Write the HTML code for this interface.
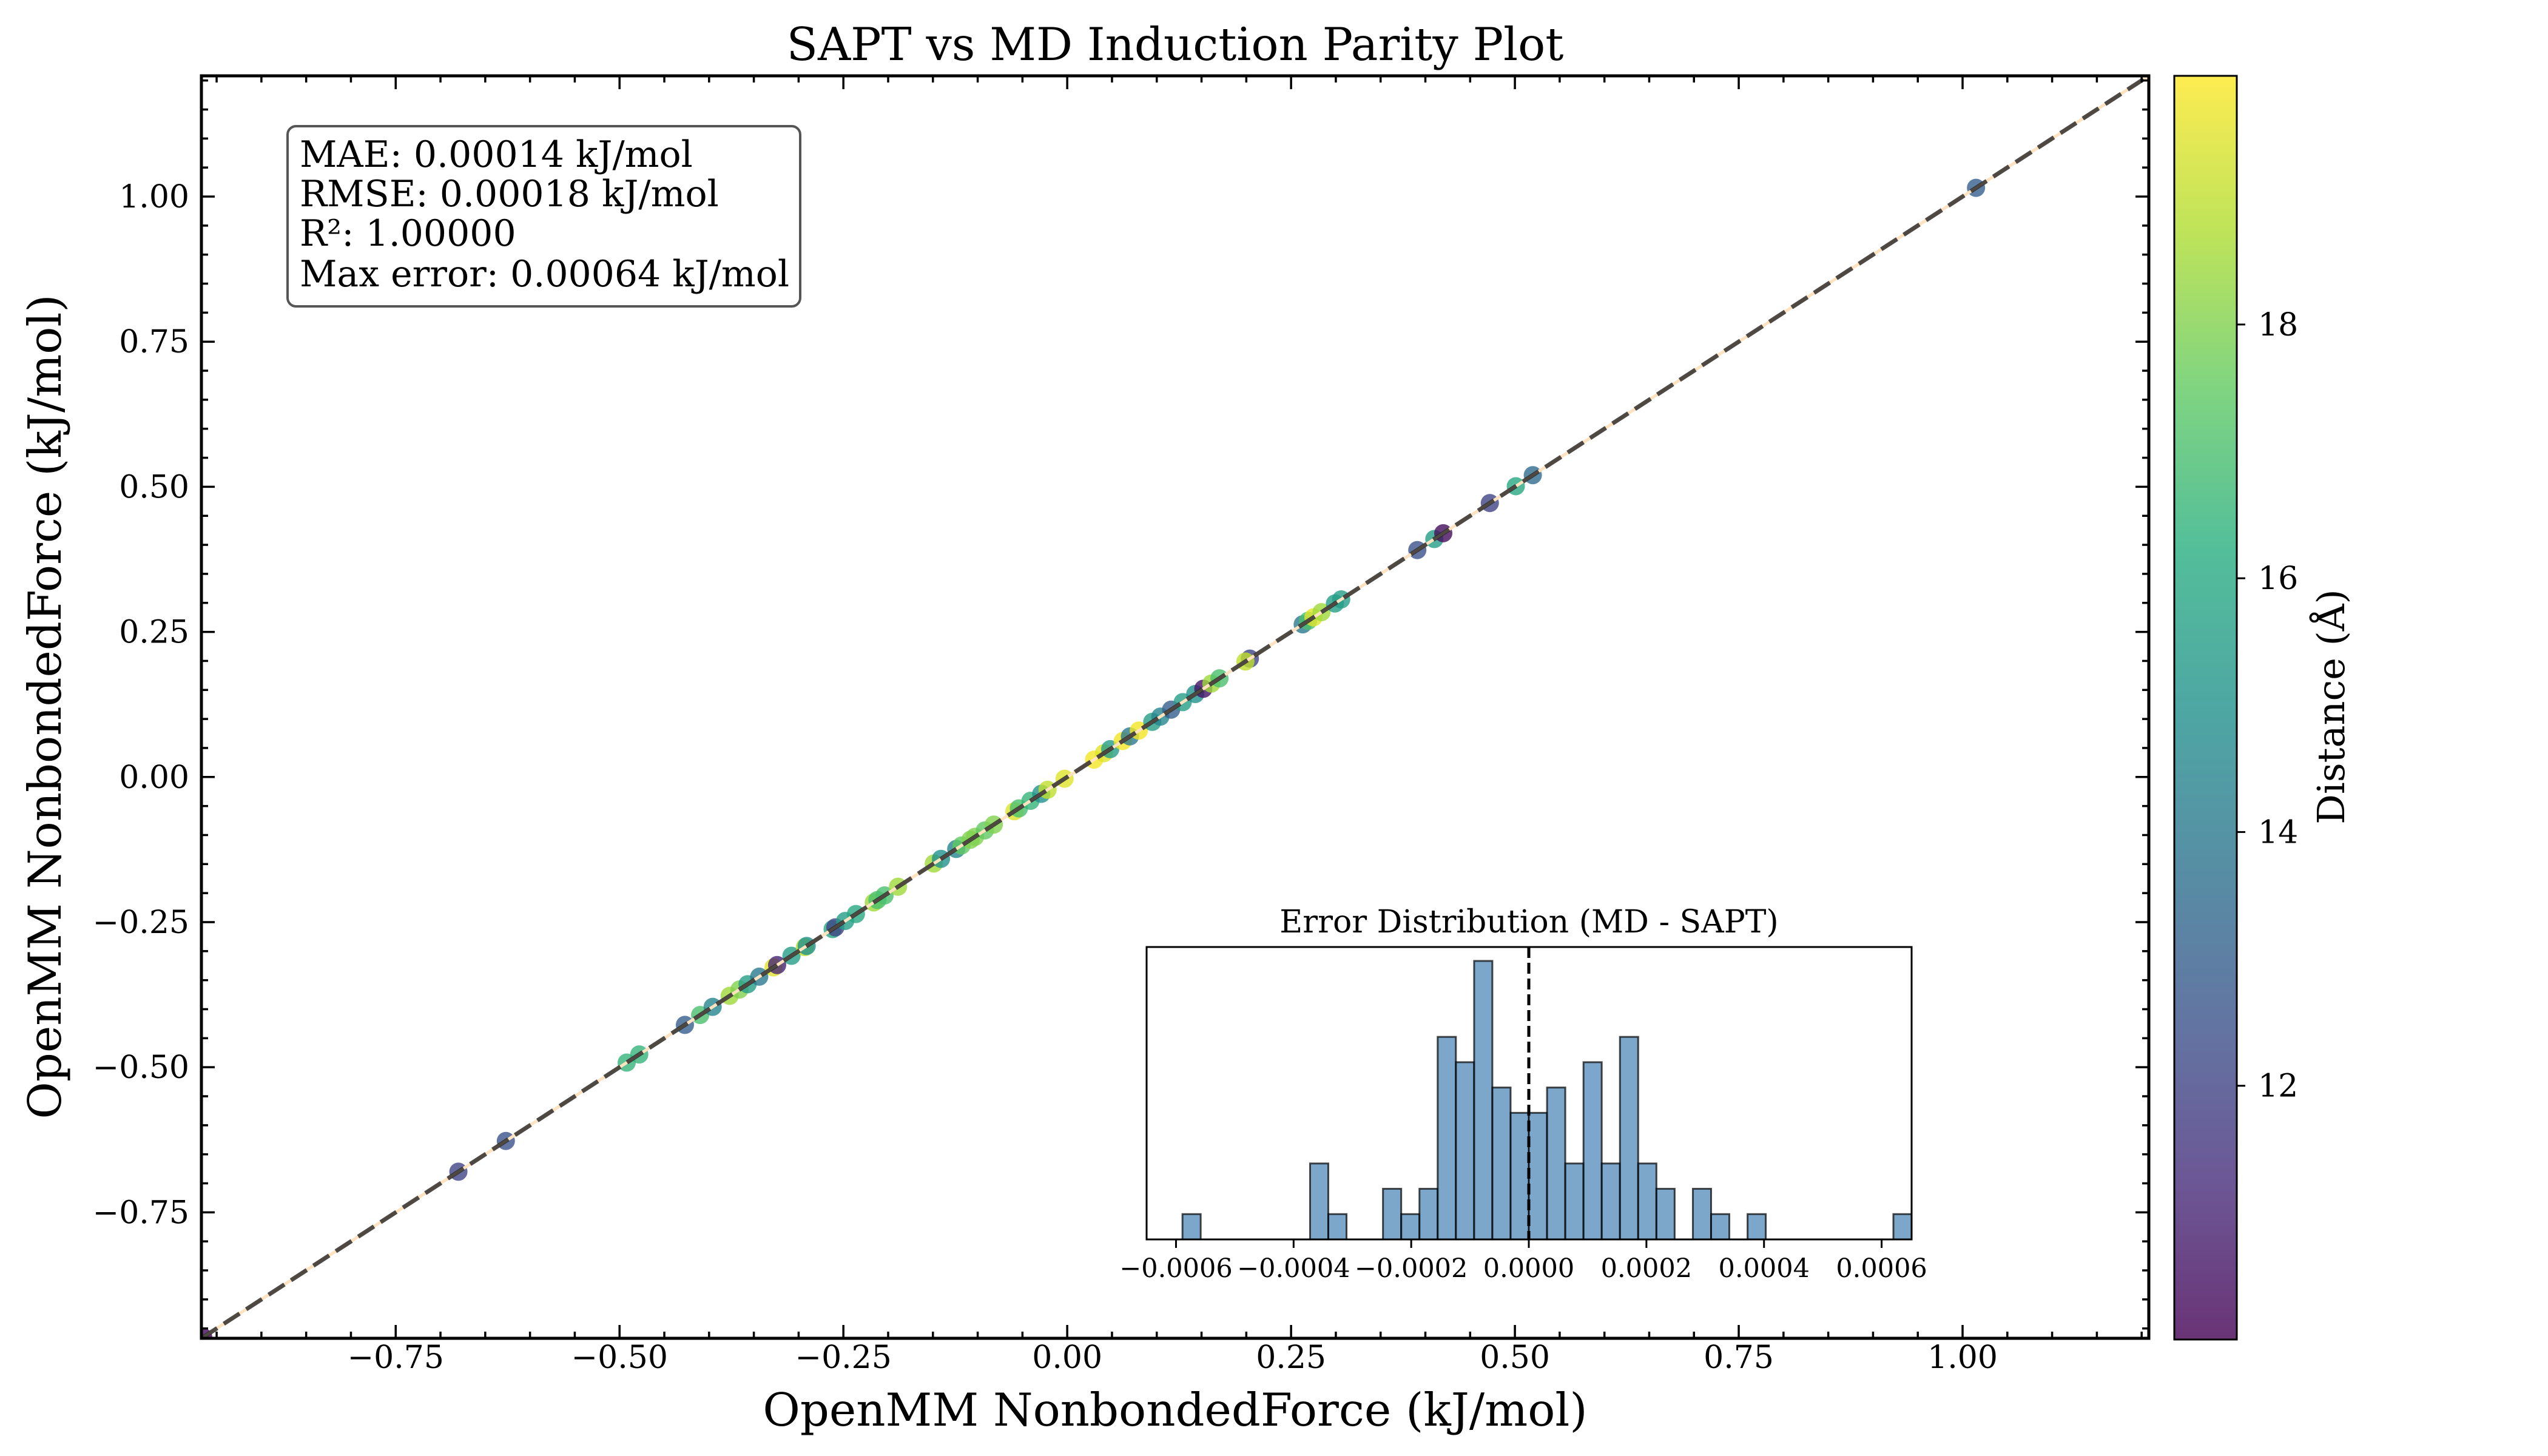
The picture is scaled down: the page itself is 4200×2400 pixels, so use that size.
<!DOCTYPE html>
<html><head><meta charset="utf-8"><style>
html,body{margin:0;padding:0;background:#fff}
svg{display:block}
text{font-family:"DejaVu Serif","Liberation Serif",serif;fill:#000}
</style></head><body>
<svg id="chart" width="4200" height="2400" viewBox="0 0 4200 2400" xmlns="http://www.w3.org/2000/svg">
<defs>
<clipPath id="axclip"><rect x="332" y="125" width="3210" height="2081"/></clipPath>
<linearGradient id="viridis" x1="0" y1="1" x2="0" y2="0">
<stop offset="0" stop-color="#440154"/><stop offset="0.125" stop-color="#472d7b"/><stop offset="0.25" stop-color="#3b528b"/><stop offset="0.375" stop-color="#2c728e"/><stop offset="0.5" stop-color="#21918c"/><stop offset="0.625" stop-color="#28ae80"/><stop offset="0.75" stop-color="#5ec962"/><stop offset="0.875" stop-color="#addc30"/><stop offset="1" stop-color="#fde725"/>
</linearGradient>
</defs>
<rect width="4200" height="2400" fill="#fff"/>
<text x="1937" y="99" font-size="75" text-anchor="middle">SAPT vs MD Induction Parity Plot</text>
<g id="main-plot"></g>
<g id="ticks"></g>
<text x="1937" y="2350" font-size="75" text-anchor="middle">OpenMM NonbondedForce (kJ/mol)</text>
<text x="0" y="0" font-size="75" text-anchor="middle" transform="translate(100,1165) rotate(-90)">OpenMM NonbondedForce (kJ/mol)</text>
<g>
<rect x="474" y="208" width="845" height="297" rx="14" fill="#fff" fill-opacity="0.85" stroke="#555" stroke-width="4"/>
<text x="494" y="275" font-size="60">MAE: 0.00014 kJ/mol</text>
<text x="494" y="340" font-size="60">RMSE: 0.00018 kJ/mol</text>
<text x="494" y="405" font-size="60">R²: 1.00000</text>
<text x="494" y="472" font-size="60">Max error: 0.00064 kJ/mol</text>
</g>
<g id="inset"></g>
<g id="cbar">
<rect x="3584" y="125" width="103" height="2083" fill="url(#viridis)" fill-opacity="0.8" stroke="#000" stroke-width="3"/>
</g>
<text x="0" y="0" font-size="62" text-anchor="middle" transform="translate(3864,1165) rotate(-90)">Distance (Å)</text>
</svg>
<script>
// ---- data ----
const sapt = [-0.965,-0.680,-0.627,-0.492,-0.478,-0.427,-0.410,-0.396,-0.377,-0.366,-0.357,-0.344,-0.328,-0.324,-0.308,-0.293,-0.291,-0.262,-0.259,-0.248,-0.236,-0.216,-0.212,-0.204,-0.189,-0.149,-0.141,-0.124,-0.118,-0.108,-0.103,-0.092,-0.082,-0.059,-0.054,-0.041,-0.029,-0.022,-0.003,0.030,0.041,0.048,0.062,0.070,0.080,0.095,0.104,0.116,0.129,0.143,0.152,0.161,0.170,0.204,0.199,0.263,0.269,0.275,0.284,0.299,0.306,0.391,0.410,0.420,0.472,0.501,0.520,1.015];
const md = [-0.965,-0.680,-0.627,-0.492,-0.478,-0.427,-0.410,-0.396,-0.377,-0.366,-0.357,-0.344,-0.328,-0.324,-0.308,-0.293,-0.291,-0.262,-0.259,-0.248,-0.236,-0.216,-0.212,-0.204,-0.189,-0.149,-0.141,-0.124,-0.118,-0.108,-0.103,-0.092,-0.082,-0.059,-0.054,-0.041,-0.029,-0.022,-0.003,0.030,0.041,0.048,0.062,0.070,0.080,0.095,0.104,0.116,0.129,0.143,0.152,0.161,0.170,0.204,0.199,0.263,0.269,0.275,0.284,0.299,0.306,0.391,0.410,0.420,0.472,0.501,0.520,1.015];
const distance = [10.2,12,12.5,16.5,16.5,13,17,14.5,18.5,18,15.5,14,19.5,11,15.5,19,15,16,12,15.5,16,18.5,17,17,18.5,18.5,15,14.5,17.5,18,18,17.5,18,19.5,17,16.5,15,19,19.5,19.8,19.5,15.5,19.8,14,19.8,15.5,14.5,13,15.5,15,10.5,18.5,17,12,19,14,17,19.5,18.5,15.5,15.5,12.5,15.5,10.3,12,16,13.5,13];
const axisTicks = [-0.75,-0.5,-0.25,0,0.25,0.5,0.75,1.0];
const axisTickLabels = ["−0.75","−0.50","−0.25","0.00","0.25","0.50","0.75","1.00"];
const binCounts = [1,0,0,0,0,0,0,3,1,0,0,2,1,2,8,7,11,6,5,5,6,3,7,3,8,3,2,0,2,1,0,1,0,0,0,0,0,0,0,1];
const binStart = -0.000589;
const binEnd = 0.000651;
const histTicks = [-0.0006,-0.0004,-0.0002,0,0.0002,0.0004,0.0006];
const histTickLabels = ["−0.0006","−0.0004","−0.0002","0.0000","0.0002","0.0004","0.0006"];
const cbarTicks = [12,14,16,18];

const NS = "http://www.w3.org/2000/svg";
function mk(tag, attrs, parent){const e=document.createElementNS(NS,tag);for(const k in attrs)e.setAttribute(k,attrs[k]);parent.appendChild(e);return e;}
const LIM=[-0.967,1.208], AX={l:332,r:3542,t:125,b:2206};
const xs=v=>AX.l+(v-LIM[0])/(LIM[1]-LIM[0])*(AX.r-AX.l);
const ys=v=>AX.b-(v-LIM[0])/(LIM[1]-LIM[0])*(AX.b-AX.t);
const VMIN=10.0,VMAX=19.96;
const vir=[[68,1,84],[71,45,123],[59,82,139],[44,114,142],[33,145,140],[40,174,128],[94,201,98],[173,220,48],[253,231,37]];
function cmap(d){let t=Math.max(0,Math.min(1,(d-VMIN)/(VMAX-VMIN)))*(vir.length-1);const i=Math.min(vir.length-2,Math.floor(t)),f=t-i;const c=vir[i].map((a,k)=>Math.round(a+(vir[i+1][k]-a)*f));return `rgb(${c[0]},${c[1]},${c[2]})`;}

const plot=document.getElementById('main-plot');
const clipG=mk('g',{'clip-path':'url(#axclip)'},plot);
for(let i=0;i<sapt.length;i++){
  const c=mk('circle',{cx:xs(sapt[i]),cy:ys(md[i]),r:15,fill:cmap(distance[i]),'fill-opacity':0.8},clipG);
  
  
}
const under=mk('line',{x1:xs(LIM[0]),y1:ys(LIM[0]),x2:xs(LIM[1]),y2:ys(LIM[1]),stroke:'#ffe2bf','stroke-width':5},clipG);


const diag=mk('line',{x1:xs(LIM[0]),y1:ys(LIM[0]),x2:xs(LIM[1]),y2:ys(LIM[1]),stroke:'#222','stroke-opacity':0.8,'stroke-width':7,'stroke-dasharray':'31 13'},clipG);


const frame=mk('rect',{x:AX.l,y:AX.t,width:AX.r-AX.l,height:AX.b-AX.t,fill:'none',stroke:'#000','stroke-width':5},plot);



const tg=document.getElementById('ticks');
for(let v=-0.95;v<=1.2001;v+=0.05){
  const vv=Math.round(v*100)/100; const major=Math.abs(Math.round(vv*4)-vv*4)<1e-6; const L=major?22:11;
  const x=xs(vv),y=ys(vv);
  mk('line',{x1:x,y1:AX.b,x2:x,y2:AX.b-L,stroke:'#000','stroke-width':3.5},tg);
  mk('line',{x1:x,y1:AX.t,x2:x,y2:AX.t+L,stroke:'#000','stroke-width':3.5},tg);
  mk('line',{x1:AX.l,y1:y,x2:AX.l+L,y2:y,stroke:'#000','stroke-width':3.5},tg);
  mk('line',{x1:AX.r,y1:y,x2:AX.r-L,y2:y,stroke:'#000','stroke-width':3.5},tg);
}
axisTicks.forEach((v,i)=>{
  const tx=mk('text',{x:xs(v),y:2255,'font-size':52,'text-anchor':'middle'},tg);tx.textContent=axisTickLabels[i];
  
  
  const ty=mk('text',{x:312,y:ys(v)+18,'font-size':52,'text-anchor':'end'},tg);ty.textContent=axisTickLabels[i];
  
  
});

// inset histogram
const ins=document.getElementById('inset');
const IB={l:1890,r:3151,t:1561,b:2043}, HX=[-0.00065,0.000651], HYMAX=11.55;
const hx=v=>IB.l+(v-HX[0])/(HX[1]-HX[0])*(IB.r-IB.l);
const hy=c=>IB.b-c/HYMAX*(IB.b-IB.t);
mk('rect',{x:IB.l,y:IB.t,width:IB.r-IB.l,height:IB.b-IB.t,fill:'#fff'},ins);
const bw=(binEnd-binStart)/binCounts.length;
binCounts.forEach((c,i)=>{
  if(c<=0)return;
  const x0=hx(binStart+i*bw),x1=hx(binStart+(i+1)*bw);
  const b=mk('rect',{x:x0,y:hy(c),width:x1-x0,height:hy(0)-hy(c),fill:'#4682b4','fill-opacity':0.7,stroke:'#000','stroke-opacity':0.7,'stroke-width':3},ins);
  
  
});
const zl=mk('line',{x1:hx(0),y1:IB.t,x2:hx(0),y2:IB.b,stroke:'#000','stroke-width':5,'stroke-dasharray':'18 8'},ins);


mk('rect',{x:IB.l,y:IB.t,width:IB.r-IB.l,height:IB.b-IB.t,fill:'none',stroke:'#000','stroke-width':3},ins);
histTicks.forEach((v,i)=>{
  mk('line',{x1:hx(v),y1:IB.b,x2:hx(v),y2:IB.b+14,stroke:'#000','stroke-width':3},ins);
  const t=mk('text',{x:hx(v),y:2105,'font-size':43,'text-anchor':'middle'},ins);t.textContent=histTickLabels[i];
  
  
});
const it=mk('text',{x:(IB.l+IB.r)/2,y:1537,'font-size':52,'text-anchor':'middle'},ins);it.textContent='Error Distribution (MD - SAPT)';



// colorbar ticks
const cb=document.getElementById('cbar');
const cy=d=>2208-(d-VMIN)/(VMAX-VMIN)*(2208-125);
cbarTicks.forEach(d=>{
  mk('line',{x1:3687,y1:cy(d),x2:3701,y2:cy(d),stroke:'#000','stroke-width':3},cb);
  const t=mk('text',{x:3722,y:cy(d)+18,'font-size':52},cb);t.textContent=String(d);
  
  
});
</script>
</body></html>
